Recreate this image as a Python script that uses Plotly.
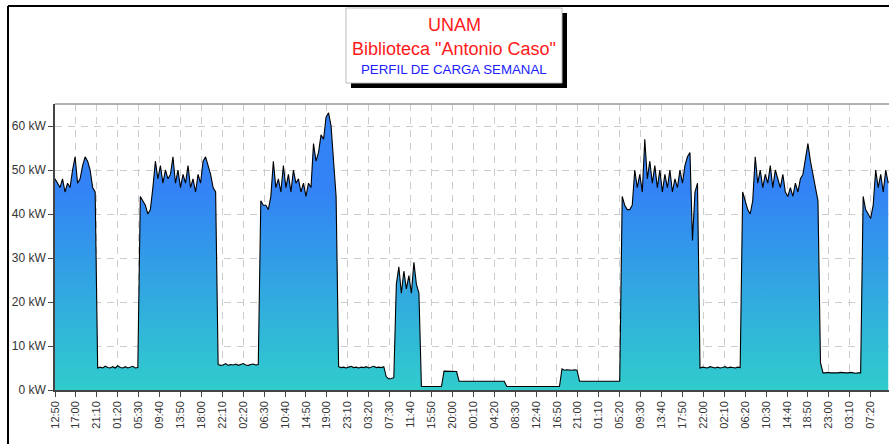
import pandas as pd
import plotly.graph_objects as go

# weekly load profile, 30-minute samples starting Monday 12:50 (kW)
mon_day = [48, 47, 46, 48, 45, 47, 46, 50, 53, 47, 48, 51, 53, 52, 50, 46, 45]
mon_night = [5.0, 5.2, 5.0, 5.4, 5.1, 5.0, 5.3, 5.0, 5.5, 5.1, 5.0, 5.3, 5.0, 5.2, 5.4, 5.0, 5.1]
tue_day = [44, 43, 42, 40, 41, 46, 52, 48, 51, 47, 50, 48, 49, 53, 47, 50,
           46, 49, 47, 51, 46, 48, 45, 49, 47, 52, 53, 51, 49, 46, 45]
tue_night = [5.8, 5.6, 5.7, 6.0, 5.6, 5.8, 5.7, 5.9, 5.6, 5.8, 6.0, 5.7, 5.6, 5.8, 5.9, 5.7, 5.8]
wed_day = [43, 42, 42, 41, 44, 52, 46, 48, 45, 51, 46, 49, 45, 50, 47, 48,
           45, 47, 44, 47, 46, 56, 52, 54, 58, 57, 62, 63, 60, 53, 44]
wed_night = [5.3, 5.1, 5.2, 5.0, 5.2, 5.4, 5.1, 5.2, 5.0, 5.2, 5.1, 5.3, 5.0, 5.2, 5.4, 5.1, 5.2, 5.1, 5.3]
sat_early = [3.0, 2.5, 2.6, 2.8]
sat_day = [24, 28, 22, 27, 23, 26, 22, 29, 24, 22]
sat_off = [0.8, 0.8, 0.8, 0.8, 0.8, 0.8, 0.8, 0.8, 0.8]
sat_eve = [4.3, 4.3, 4.2, 4.3, 4.3, 4.2]
sat_night = [2.0] * 19
sun_off = [0.8] * 22
sun_eve = [4.8, 4.5, 4.6, 4.5, 4.5, 4.6, 4.5]
sun_night = [2.0] * 17
mon2_day = [44, 42, 41, 41, 42, 50, 46, 49, 45, 57, 48, 52, 47, 51, 46, 50,
            45, 49, 46, 50, 45, 48, 46, 50, 47, 51, 53, 54, 34, 45, 47]
mon2_night = [5.0, 5.2, 5.1, 5.0, 5.3, 5.1, 5.0, 5.2, 5.0, 5.1, 5.3, 5.0, 5.2, 5.1, 5.0, 5.2, 5.1]
tue2_day = [45, 43, 41, 40, 43, 53, 47, 50, 46, 49, 47, 51, 46, 50, 48, 46,
            49, 45, 44, 46, 44, 47, 45, 48, 49, 53, 56, 52, 49, 46, 43]
tue2_night = [6.2, 3.9, 3.9, 4.0, 3.9, 3.9, 3.8, 3.9, 4.0, 3.9, 3.9, 3.9, 4.0, 3.9, 3.8, 3.9, 3.9]
wed2_day = [44, 41, 40, 39, 42, 50, 46, 49, 45, 50, 47]

kw = (mon_day + mon_night + tue_day + tue_night + wed_day + wed_night + sat_early + sat_day
      + sat_off + sat_eve + sat_night + sun_off + sun_eve + sun_night + mon2_day + mon2_night
      + tue2_day + tue2_night + wed2_day)

start = pd.Timestamp("2015-03-02 12:50")
times = pd.date_range(start, periods=len(kw), freq="30min")
x_end = start + pd.Timedelta(minutes=9969)

W, H = 889, 444
L, T, B = 55, 104, 54
pw, ph = W - L, H - T - B


def px(x):
    return (x - L) / pw


def py(y):
    return (H - B - y) / ph


fig = go.Figure()
fig.add_trace(go.Scatter(
    x=times, y=kw, mode="lines",
    line=dict(color="black", width=1.1),
    fill="tozeroy",
    fillgradient=dict(type="vertical", start=0, stop=46,
                      colorscale=[[0, "rgb(48,204,204)"], [1, "rgb(51,130,246)"]]),
    hoverinfo="skip",
))

shapes = [
    # outer frame
    dict(type="line", xref="paper", yref="paper", x0=px(8), x1=px(900), y0=py(6), y1=py(6),
         line=dict(color="black", width=2)),
    dict(type="line", xref="paper", yref="paper", x0=px(8), x1=px(8), y0=py(6), y1=py(460),
         line=dict(color="black", width=2)),
    # plot border top
    dict(type="line", xref="paper", yref="paper", x0=0, x1=1, y0=1, y1=1,
         line=dict(color="#999999", width=1.5)),
    # title box shadow + box
    dict(type="rect", xref="paper", yref="paper", x0=px(351), x1=px(567), y0=py(88), y1=py(13),
         fillcolor="black", line=dict(width=0)),
    dict(type="rect", xref="paper", yref="paper", x0=px(346), x1=px(562), y0=py(83), y1=py(8),
         fillcolor="white", line=dict(color="#bbbbbb", width=1)),
]

title_lines = [
    ("UNAM", 25, 18, "#ff1a1a"),
    ('Biblioteca "Antonio Caso"', 49, 18, "#ff1a1a"),
    ("PERFIL DE CARGA SEMANAL", 70, 13.3, "#2020ff"),
]
annotations = [
    dict(text=t, xref="paper", yref="paper", x=px(454), y=py(yy), showarrow=False,
         xanchor="center", yanchor="middle", font=dict(size=s, color=c, family="Liberation Sans, Arial"))
    for t, yy, s, c in title_lines
]

fig.update_layout(
    width=W, height=H,
    margin=dict(l=L, r=0, t=T, b=B),
    paper_bgcolor="white", plot_bgcolor="white",
    showlegend=False,
    shapes=shapes,
    annotations=annotations,
    font=dict(family="Liberation Sans, Arial", color="#333333"),
)
fig.update_xaxes(
    type="date", range=[start, x_end],
    tick0=start, dtick=250 * 60 * 1000, tickformat="%H:%M", tickangle=-90,
    tickfont=dict(size=11, color="#333333"),
    ticks="outside", ticklen=5, tickcolor="#444444",
    showgrid=True, gridcolor="#cccccc", griddash="7px,6px", gridwidth=1,
    showline=True, linecolor="#444444", linewidth=1.5, zeroline=False,
)
fig.update_yaxes(
    range=[0, 65], dtick=10, ticksuffix=" kW",
    tickfont=dict(size=12, color="#333333"),
    ticks="outside", ticklen=5, tickcolor="#444444",
    showgrid=True, gridcolor="#cccccc", griddash="7px,6px", gridwidth=1,
    showline=True, linecolor="#444444", linewidth=1.5, zeroline=False,
)

# drop the default page margin so the figure sits at the window's top-left corner
fig.write_html("out.html", config={"displayModeBar": False},
               post_script="document.body.style.margin='0';")
